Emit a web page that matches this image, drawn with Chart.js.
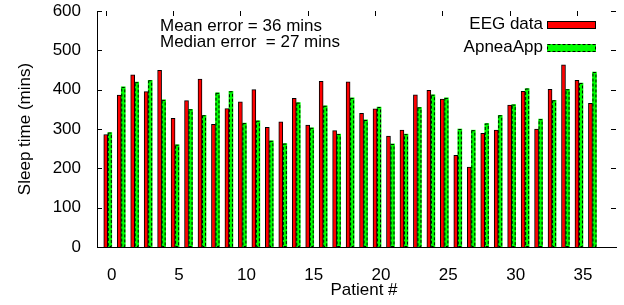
<!DOCTYPE html>
<html>
<head>
<meta charset="utf-8">
<script src="https://cdn.jsdelivr.net/npm/chart.js@4.4.1/dist/chart.umd.min.js"></script>
<style>
  html, body { margin: 0; padding: 0; background: #fff; }
  #wrap { width: 624px; height: 305px; }
</style>
</head>
<body>
<div id="wrap"><canvas id="sleepChart" width="624" height="305"></canvas></div>
<script>
// Data
const patients = [0, 1, 2, 3, 4, 5, 6, 7, 8, 9, 10, 11, 12, 13, 14, 15, 16, 17, 18,
  19, 20, 21, 22, 23, 24, 25, 26, 27, 28, 29, 30, 31, 32, 33, 34, 35, 36];
const eegData = [286, 386, 438, 395, 449, 327, 372, 427, 312, 352, 369, 400, 304, 318,
  378, 310, 421, 296, 420, 340, 351, 282, 297, 387, 398, 376, 233, 203, 289, 297, 361,
  396, 300, 401, 463, 424, 365];
const apneaData = [291, 407, 419, 424, 374, 260, 350, 335, 392, 396, 315, 321, 270, 263,
  367, 303, 359, 287, 379, 323, 356, 262, 287, 355, 387, 379, 300, 297, 314, 335, 362,
  403, 325, 373, 401, 417, 445];
const seriesNames = ["EEG data", "ApneaApp"];
const yTicks = [0, 100, 200, 300, 400, 500, 600];
const xTicks = [0, 5, 10, 15, 20, 25, 30, 35];
const notes = ["Mean error = 36 mins", "Median error  = 27 mins"];

const FONT = "'Liberation Sans', Arial, sans-serif";
const FONT_SIZE = 17;
const RED = "#ff0000";
const GREEN = "#00ff00";
const clusterShift = 0.3; // second bar sits right of the first one

// Dashed outline for the green bars, inward ticks, legend and notes
const extras = {
  id: "extras",
  afterDatasetsDraw(chart) {
    const ctx = chart.ctx;
    ctx.save();
    ctx.strokeStyle = "#000";
    ctx.lineWidth = 1;
    ctx.setLineDash([3, 2]);
    chart.getDatasetMeta(1).data.forEach((bar) => {
      const p = bar.getProps(["x", "y", "base", "width"], true);
      ctx.strokeRect(p.x - p.width / 2 + 0.5, p.y + 0.5, p.width - 1, p.base - p.y - 1);
    });
    ctx.restore();
  },
  afterDraw(chart) {
    const ctx = chart.ctx;
    const area = chart.chartArea;
    const xs = chart.scales.x;
    const ys = chart.scales.y;
    ctx.save();
    ctx.strokeStyle = "#000";
    ctx.lineWidth = 1;

    // y ticks, left and mirrored right
    yTicks.forEach((v) => {
      const py = Math.round(ys.getPixelForValue(v)) + 0.5;
      ctx.beginPath();
      ctx.moveTo(area.left, py);
      ctx.lineTo(area.left + 5, py);
      ctx.moveTo(area.right - 5, py);
      ctx.lineTo(area.right, py);
      ctx.stroke();
    });
    // x ticks mirrored on top
    xTicks.forEach((v) => {
      const px = Math.round(xs.getPixelForValue(v)) + 0.5;
      ctx.beginPath();
      ctx.moveTo(px, area.top);
      ctx.lineTo(px, area.top + 5);
      ctx.stroke();
    });

    ctx.fillStyle = "#000";
    ctx.font = FONT_SIZE + "px " + FONT;
    ctx.textBaseline = "alphabetic";

    // notes
    ctx.textAlign = "left";
    notes.forEach((t, i) => ctx.fillText(t, 160, 31 + i * 16));

    // legend
    const boxRight = area.right - 20;
    const boxW = 49;
    const boxH = 8;
    const colors = [RED, GREEN];
    seriesNames.forEach((name, i) => {
      const top = 21 + i * 23;
      ctx.textAlign = "right";
      ctx.fillStyle = "#000";
      ctx.fillText(name, boxRight - boxW - 4, top + 8);
      ctx.fillStyle = colors[i];
      ctx.fillRect(boxRight - boxW, top, boxW, boxH);
      ctx.setLineDash(i === 1 ? [3, 2] : []);
      ctx.strokeRect(boxRight - boxW + 0.5, top + 0.5, boxW - 1, boxH - 1);
    });
    ctx.setLineDash([]);

    // x axis title
    ctx.fillStyle = "#000";
    ctx.textAlign = "center";
    ctx.textBaseline = "middle";
    ctx.fillText("Patient #", 364, 290);
    ctx.restore();
  },
};

const ctx = document.getElementById("sleepChart").getContext("2d");
new Chart(ctx, {
  type: "bar",
  data: {
    datasets: [
      {
        label: seriesNames[0],
        data: patients.map((p, i) => ({ x: p, y: eegData[i] })),
        backgroundColor: RED,
        borderColor: "#000",
        borderWidth: 1,
        barThickness: 4,
        grouped: false,
      },
      {
        label: seriesNames[1],
        data: patients.map((p, i) => ({ x: p + clusterShift, y: apneaData[i] })),
        backgroundColor: GREEN,
        borderWidth: 0,
        barThickness: 4,
        grouped: false,
      },
    ],
  },
  options: {
    responsive: false,
    animation: false,
    layout: { padding: { left: 11, right: 8, top: 11, bottom: 2 } },
    plugins: {
      legend: { display: false },
      tooltip: { enabled: false },
    },
    scales: {
      x: {
        type: "linear",
        offset: false,
        min: -0.65,
        max: 37.9,
        grid: { display: false },
        border: { display: true, color: "#000", width: 1 },
        ticks: {
          stepSize: 5,
          includeBounds: false,
          padding: 10,
          labelOffset: 6,
          color: "#000",
          font: { family: FONT, size: FONT_SIZE },
          callback: (v) => (xTicks.includes(v) ? String(v) : ""),
        },
        afterFit: (s) => {
          s.height = 56;
          s.paddingLeft = 0;
          s.paddingRight = 0;
        },
      },
      y: {
        min: 0,
        max: 600,
        grid: { display: false },
        border: { display: true, color: "#000", width: 1 },
        ticks: {
          stepSize: 100,
          padding: 8,
          color: "#000",
          font: { family: FONT, size: FONT_SIZE },
        },
        title: {
          display: true,
          text: "Sleep time (mins)",
          color: "#000",
          font: { family: FONT, size: FONT_SIZE },
        },
        afterFit: (s) => {
          s.width = 86;
          s.paddingTop = 0;
          s.paddingBottom = 0;
        },
      },
    },
  },
  plugins: [extras],
});
</script>
</body>
</html>
